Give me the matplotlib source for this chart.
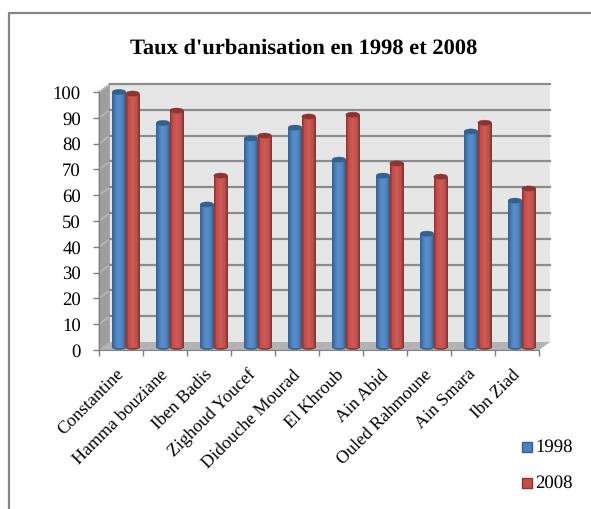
import numpy as np
import matplotlib
matplotlib.use("Agg")
import matplotlib.pyplot as plt
from matplotlib.patches import Ellipse, Polygon, Rectangle
from matplotlib.lines import Line2D

plt.rcParams['font.family'] = ['Liberation Serif', 'DejaVu Serif']
plt.rcParams['text.hinting'] = 'no_hinting'

communes = ["Constantine", "Hamma bouziane", "Iben Badis", "Zighoud Youcef",
            "Didouche Mourad", "El Khroub", "Ain Abid", "Ouled Rahmoune",
            "Ain Smara", "Ibn Ziad"]
taux_1998 = [100, 88, 56.4, 82, 86.2, 73.8, 67.6, 45.1, 84.7, 57.9]
taux_2008 = [99.4, 92.8, 67.6, 83.1, 90.5, 91.2, 72.3, 67.2, 88.1, 62.6]
yticks = list(range(0, 101, 10))

W, H = 591, 509
# front plane of the fake 3d box, in pixels
left, right, y0, y100 = 99, 539, 350, 92
n = len(communes)
dx = 11 / ((right - left) / n)      # depth offset in category units
dy = 8 / ((y0 - y100) / 100)        # depth offset in value units

fig = plt.figure(figsize=(W / 100, H / 100), dpi=100)
ax = fig.add_axes([left / W, 1 - y0 / H, (right - left) / W, (y0 - y100) / H])
ax.set_xlim(0, n)
ax.set_ylim(0, 100)
ax.patch.set_visible(False)


def mix(a, b, f):
    a = np.array(matplotlib.colors.to_rgb(a))
    b = np.array(matplotlib.colors.to_rgb(b))
    return tuple(a + (b - a) * f)


def cylinder(x, w, val, base, dark, light):
    # vertical strips to fake the round shading
    strips = 16
    sw = w / strips
    bottom = 0.9
    ax.add_patch(Ellipse((x + w / 2, bottom), w, 1.6, color=dark, zorder=3, lw=0, clip_on=False))
    for i in range(strips):
        t = (i + 0.5) / strips
        if t < 0.25:
            c = mix(dark, base, t / 0.25)
        elif t < 0.5:
            c = mix(base, light, (t - 0.25) / 0.25)
        elif t < 0.8:
            c = mix(light, base, (t - 0.5) / 0.3)
        else:
            c = mix(base, dark, (t - 0.8) / 0.15 if t < 0.95 else 1)
        ax.bar(x + i * sw, val - bottom, bottom=bottom, width=sw * 1.05, align='edge', color=c, linewidth=0, zorder=4)
    ax.add_patch(Ellipse((x + w / 2, val), w, 2.0, facecolor=dark, edgecolor=dark, zorder=5, lw=0.3, clip_on=False))


# walls
ax.add_patch(Polygon([(0, 0), (dx, dy), (n + dx, dy), (n, 0)], closed=True, facecolor='#b2b2b2', edgecolor='none', zorder=0, clip_on=False))
ax.add_patch(Polygon([(0, 0), (dx, dy), (dx, 100 + dy), (0, 100)], closed=True, facecolor='#9e9e9e', edgecolor='#b0b0b0', lw=0.8, zorder=0, clip_on=False))
ax.add_patch(Rectangle((dx, dy), n, 100, facecolor='#e6e6e6', edgecolor='none', zorder=0, clip_on=False))
for v in yticks[1:]:
    ax.plot([0, dx], [v, v + dy], color='#b8b8b8', lw=1.2, zorder=1, clip_on=False)
    ax.plot([dx, n + dx], [v + dy, v + dy], color='#8c8c8c', lw=1.6, zorder=1, clip_on=False)

bw = 0.31
for i in range(n):
    cylinder(i + 0.3, bw, taux_1998[i], '#4f81bd', '#33608f', '#5a8cc8')
    cylinder(i + 0.3 + bw, bw, taux_2008[i], '#c0504d', '#8c3431', '#cc5a57')

ax.set_xticks(range(n + 1))
ax.set_xticklabels([])
ax.set_yticks(yticks)
ax.set_yticklabels([str(v) for v in yticks], fontsize=13.5)
for s in ['top', 'right']:
    ax.spines[s].set_visible(False)
for s in ['left', 'bottom']:
    ax.spines[s].set_color('#808080')
ax.tick_params(axis='both', color='#808080', length=4, width=1)
ax.tick_params(axis='y', pad=9)

for i, name in enumerate(communes):
    ax.annotate(name, xy=(i + 0.38, 0), xytext=(0, -12), textcoords='offset points',
                rotation=45, ha='right', va='top', rotation_mode='anchor', fontsize=13)

fig.text(304 / W, 1 - 48 / H, "Taux d'urbanisation en 1998 et 2008", ha='center', va='center',
         fontsize=16.2, fontweight='bold')

# legend
for yp, label, fc, ec in [(447, "1998", '#4f81bd', '#33608f'), (483, "2008", '#c0504d', '#8c3431')]:
    fig.add_artist(Rectangle((522 / W, 1 - (yp + 5) / H), 10 / W, 10 / H, facecolor=fc, edgecolor=ec, lw=1, transform=fig.transFigure))
    fig.text(535 / W, 1 - yp / H, label, ha='left', va='center', fontsize=13.5)

# chart border, only left and top fall inside the crop
fig.add_artist(Line2D([9 / W, 9 / W, 1], [0, 1 - 13 / H, 1 - 13 / H], color='#868686', lw=1.6, transform=fig.transFigure))

fig.savefig("out.png", dpi=100)
